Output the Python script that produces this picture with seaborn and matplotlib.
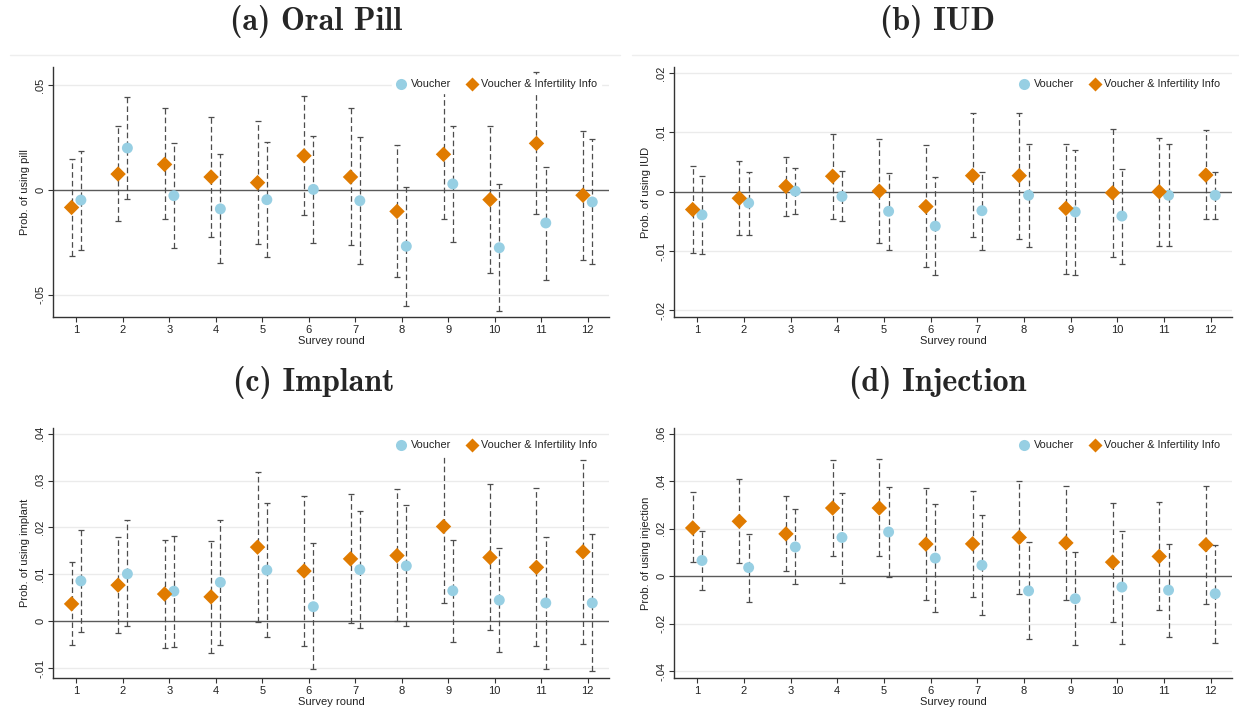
import numpy as np
import pandas as pd
import matplotlib
matplotlib.use("Agg")
import matplotlib.pyplot as plt
import seaborn as sns
from matplotlib.lines import Line2D
from matplotlib.ticker import FixedLocator

# ---------------- data ----------------
rounds = list(range(1, 13))
groups = ["Voucher", "Voucher & Infertility Info"]

pill_v_est = [-0.0048, 0.0200, -0.0027, -0.0090, -0.0046, 0.0003, -0.0051, -0.0268, 0.0029, -0.0275, -0.0157, -0.0057]
pill_v_lo = [-0.0286, -0.0043, -0.0275, -0.0348, -0.0319, -0.0251, -0.0352, -0.0552, -0.0246, -0.0576, -0.0427, -0.0354]
pill_v_hi = [0.0187, 0.0444, 0.0224, 0.0170, 0.0230, 0.0256, 0.0252, 0.0016, 0.0305, 0.0027, 0.0111, 0.0243]
pill_vi_est = [-0.0083, 0.0076, 0.0122, 0.0062, 0.0035, 0.0163, 0.0062, -0.0102, 0.0170, -0.0046, 0.0222, -0.0025]
pill_vi_lo = [-0.0316, -0.0148, -0.0138, -0.0222, -0.0257, -0.0121, -0.0262, -0.0416, -0.0140, -0.0397, -0.0113, -0.0332]
pill_vi_hi = [0.0149, 0.0303, 0.0389, 0.0346, 0.0330, 0.0446, 0.0389, 0.0214, 0.0480, 0.0305, 0.0560, 0.0281]

iud_v_est = [-0.0039, -0.0019, 0.0001, -0.0008, -0.0033, -0.0058, -0.0032, -0.0006, -0.0034, -0.0041, -0.0006, -0.0006]
iud_v_lo = [-0.0105, -0.0073, -0.0038, -0.0050, -0.0099, -0.0141, -0.0099, -0.0093, -0.0140, -0.0122, -0.0092, -0.0046]
iud_v_hi = [0.0026, 0.0034, 0.0040, 0.0035, 0.0032, 0.0024, 0.0034, 0.0080, 0.0071, 0.0039, 0.0080, 0.0034]
iud_vi_est = [-0.0030, -0.0011, 0.0009, 0.0026, 0.0001, -0.0025, 0.0027, 0.0027, -0.0028, -0.0002, 0.0000, 0.0028]
iud_vi_lo = [-0.0103, -0.0073, -0.0041, -0.0046, -0.0087, -0.0127, -0.0077, -0.0079, -0.0138, -0.0110, -0.0091, -0.0046]
iud_vi_hi = [0.0043, 0.0051, 0.0059, 0.0098, 0.0089, 0.0078, 0.0132, 0.0133, 0.0081, 0.0106, 0.0091, 0.0104]

imp_v_est = [0.0086, 0.0101, 0.0064, 0.0083, 0.0109, 0.0031, 0.0110, 0.0118, 0.0065, 0.0045, 0.0039, 0.0039]
imp_v_lo = [-0.0023, -0.0011, -0.0054, -0.0050, -0.0033, -0.0102, -0.0015, -0.0011, -0.0044, -0.0066, -0.0101, -0.0106]
imp_v_hi = [0.0195, 0.0215, 0.0182, 0.0216, 0.0252, 0.0166, 0.0236, 0.0248, 0.0174, 0.0157, 0.0179, 0.0187]
imp_vi_est = [0.0037, 0.0077, 0.0058, 0.0052, 0.0158, 0.0107, 0.0133, 0.0140, 0.0202, 0.0136, 0.0115, 0.0148]
imp_vi_lo = [-0.0051, -0.0026, -0.0057, -0.0068, -0.0001, -0.0053, -0.0004, 0.0000, 0.0038, -0.0019, -0.0052, -0.0048]
imp_vi_hi = [0.0127, 0.0179, 0.0174, 0.0172, 0.0318, 0.0267, 0.0272, 0.0282, 0.0366, 0.0293, 0.0284, 0.0344]

inj_v_est = [0.0066, 0.0036, 0.0123, 0.0163, 0.0186, 0.0076, 0.0046, -0.0062, -0.0095, -0.0046, -0.0059, -0.0074]
inj_v_lo = [-0.0060, -0.0107, -0.0035, -0.0027, -0.0004, -0.0150, -0.0165, -0.0266, -0.0290, -0.0285, -0.0255, -0.0282]
inj_v_hi = [0.0192, 0.0179, 0.0282, 0.0352, 0.0377, 0.0303, 0.0259, 0.0142, 0.0101, 0.0189, 0.0137, 0.0133]
inj_vi_est = [0.0203, 0.0231, 0.0178, 0.0287, 0.0287, 0.0135, 0.0136, 0.0163, 0.0140, 0.0059, 0.0083, 0.0132]
inj_vi_lo = [0.0060, 0.0056, 0.0020, 0.0085, 0.0083, -0.0102, -0.0087, -0.0074, -0.0100, -0.0193, -0.0144, -0.0119]
inj_vi_hi = [0.0353, 0.0409, 0.0336, 0.0491, 0.0493, 0.0371, 0.0357, 0.0401, 0.0380, 0.0308, 0.0311, 0.0380]

titles = ["(a) Oral Pill", "(b) IUD", "(c) Implant", "(d) Injection"]
ylabels = ["Prob. of using pill", "Prob. of using IUD", "Prob. of using implant", "Prob. of using injection"]
xlabel = "Survey round"

pill_ticks = [-0.05, 0.0, 0.05]
pill_ticklabels = ["-.05", "0", ".05"]
iud_ticks = [-0.02, -0.01, 0.0, 0.01, 0.02]
iud_ticklabels = ["-.02", "-.01", "0", ".01", ".02"]
imp_ticks = [-0.01, 0.0, 0.01, 0.02, 0.03, 0.04]
imp_ticklabels = ["-.01", "0", ".01", ".02", ".03", ".04"]
inj_ticks = [-0.04, -0.02, 0.0, 0.02, 0.04, 0.06]
inj_ticklabels = ["-.04", "-.02", "0", ".02", ".04", ".06"]

# ---------------- style ----------------
sns.set_theme(style="white")
plt.rcParams["font.family"] = ["Liberation Sans", "DejaVu Sans"]

BLUE = "#97CFE3"
ORANGE = "#E07B00"
ERR = "#4D4D4D"
palette = {groups[0]: BLUE, groups[1]: ORANGE}
markers = {groups[0]: "o", groups[1]: "D"}
offsets = {groups[0]: 0.1, groups[1]: -0.1}

panels = [
    dict(v=(pill_v_est, pill_v_lo, pill_v_hi), vi=(pill_vi_est, pill_vi_lo, pill_vi_hi),
         ticks=pill_ticks, labels=pill_ticklabels, ylim=(-0.0605, 0.0586)),
    dict(v=(iud_v_est, iud_v_lo, iud_v_hi), vi=(iud_vi_est, iud_vi_lo, iud_vi_hi),
         ticks=iud_ticks, labels=iud_ticklabels, ylim=(-0.0211, 0.0210)),
    dict(v=(imp_v_est, imp_v_lo, imp_v_hi), vi=(imp_vi_est, imp_vi_lo, imp_vi_hi),
         ticks=imp_ticks, labels=imp_ticklabels, ylim=(-0.0121, 0.0412)),
    dict(v=(inj_v_est, inj_v_lo, inj_v_hi), vi=(inj_vi_est, inj_vi_lo, inj_vi_hi),
         ticks=inj_ticks, labels=inj_ticklabels, ylim=(-0.0429, 0.0624)),
]

W, H = 1239, 715
fig = plt.figure(figsize=(W / 100, H / 100), dpi=100)
fig.patch.set_facecolor("white")

# axes boxes in pixel terms: (left, top, right, bottom)
boxes = [(53, 67, 609, 317), (674, 67, 1232, 317), (53, 428, 609, 678), (674, 428, 1232, 678)]
title_pos = [(316, 22), (937, 22), (314, 382), (938, 382)]

for i, (p, box) in enumerate(zip(panels, boxes)):
    l, t, r, b = box
    ax = fig.add_axes([l / W, 1 - b / H, (r - l) / W, (b - t) / H])
    rows = []
    for g, key in zip(groups, ["v", "vi"]):
        est, lo, hi = p[key]
        for rd, e, lw_, hw_ in zip(rounds, est, lo, hi):
            rows.append(dict(round=rd, group=g, est=e, lo=lw_, hi=hw_, x=rd + offsets[g]))
    df = pd.DataFrame(rows)

    # grid & zero line
    for tk in p["ticks"]:
        if tk != 0:
            ax.axhline(tk, color="#EBEBEB", lw=1.0, zorder=0)
    ax.axhline(0, color="#5A5A5A", lw=1.0, zorder=1)

    # error bars
    for g in groups:
        d = df[df.group == g]
        eb = ax.errorbar(d["x"], d["est"], yerr=[d["est"] - d["lo"], d["hi"] - d["est"]],
                         fmt="none", ecolor=ERR, elinewidth=0.9, capsize=2.2, capthick=0.9, zorder=2)
        for lc in eb[2]:
            lc.set_linestyle((0, (4.5, 2.5)))

    sns.scatterplot(data=df, x="x", y="est", hue="group", style="group",
                    palette=palette, markers=markers, s=62, edgecolor="none",
                    ax=ax, legend=False, zorder=3)

    ax.set_xlim(0.5, 12.46)
    ax.set_ylim(*p["ylim"])
    ax.xaxis.set_major_locator(FixedLocator(rounds))
    ax.set_xticklabels([str(r_) for r_ in rounds], fontsize=8)
    ax.yaxis.set_major_locator(FixedLocator(p["ticks"]))
    ax.set_yticklabels(p["labels"], fontsize=8, rotation=90, va="center")
    ax.tick_params(axis="both", direction="out", length=3.5, width=0.8, color="#333333",
                   labelcolor="#222222", pad=2, left=True, bottom=True)
    for s in ["top", "right"]:
        ax.spines[s].set_visible(False)
    for s in ["left", "bottom"]:
        ax.spines[s].set_color("#333333")
        ax.spines[s].set_linewidth(1.0)
    ax.set_xlabel(xlabel, fontsize=8, labelpad=1, color="#222222")
    ax.set_ylabel(ylabels[i], fontsize=8, labelpad=4, color="#222222")
    ax.set_facecolor("white")

    handles = [Line2D([], [], marker=markers[g], linestyle="none", markerfacecolor=palette[g],
                      markeredgecolor="none", markersize=8 if g == groups[0] else 7.5) for g in groups]
    leg = ax.legend(handles, groups, loc="upper right", ncol=2, frameon=True, fontsize=7.8,
                    bbox_to_anchor=(0.995, 0.985), handletextpad=0.4, columnspacing=1.4,
                    borderpad=0.3, handlelength=1.0)
    leg.get_frame().set_facecolor("white")
    leg.get_frame().set_edgecolor("white")
    leg.get_frame().set_alpha(1.0)
    leg.set_zorder(5)
    for txt in leg.get_texts():
        txt.set_color("#222222")

    tx, ty = title_pos[i]
    fig.text(tx / W, 1 - ty / H, titles[i], ha="center", va="center",
             fontsize=23, family=["cmb10", "DejaVu Serif"])

# faint region borders at the top of the upper panels
fig.add_artist(Line2D([10 / W, 620 / W], [1 - 55 / H, 1 - 55 / H], color="#EEEEEE", lw=1))
fig.add_artist(Line2D([632 / W, 1239 / W], [1 - 55 / H, 1 - 55 / H], color="#EEEEEE", lw=1))

fig.savefig("out.png", dpi=100, facecolor="white")
